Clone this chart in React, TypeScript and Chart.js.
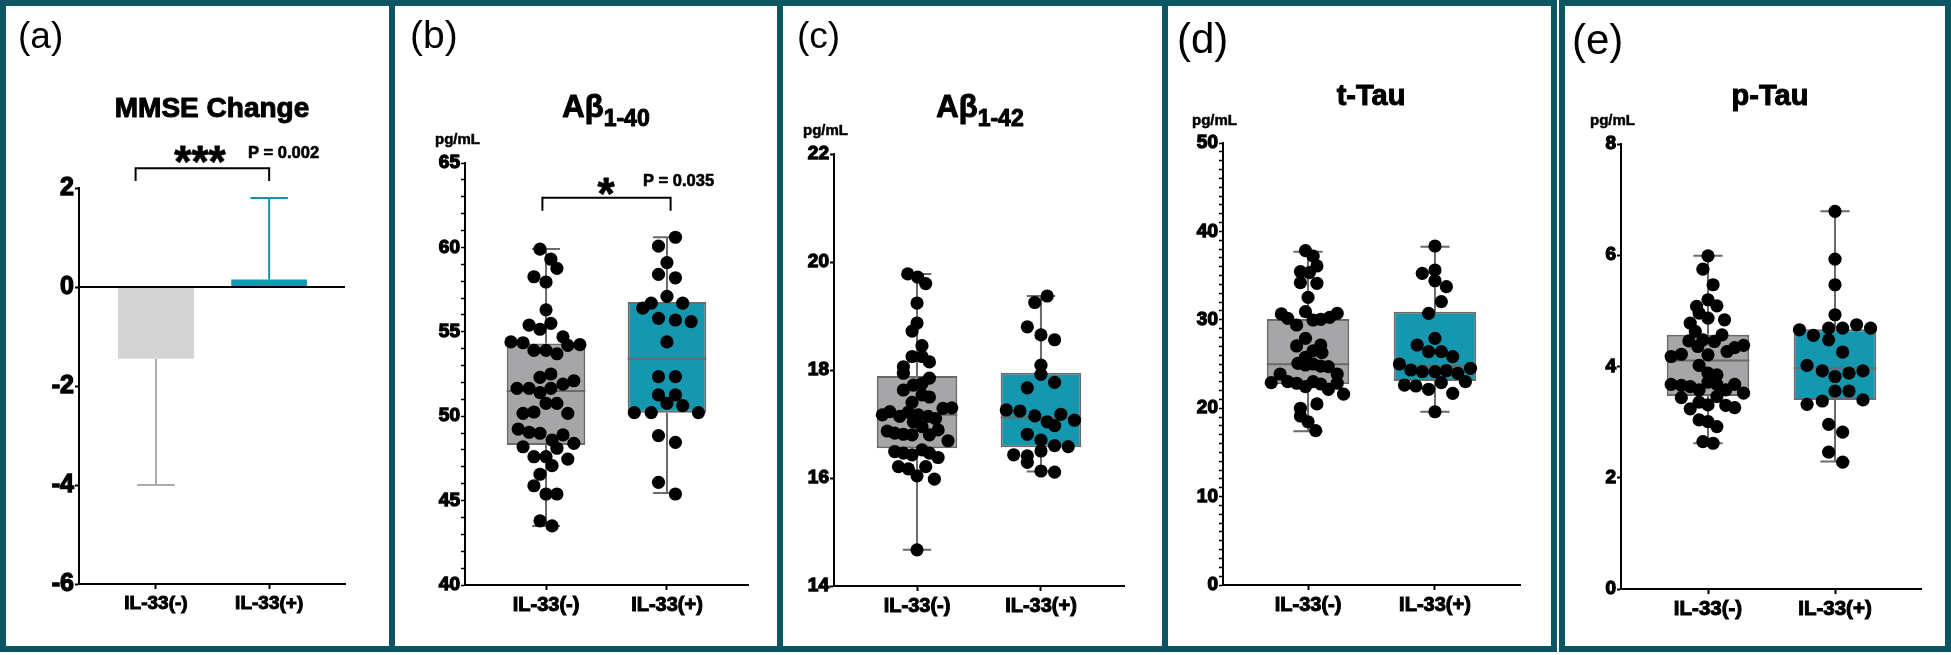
import React, { useEffect, useRef } from 'react';
import { Chart, registerables } from 'chart.js';

Chart.register(...registerables);

const FONT = "'Liberation Sans', Arial, sans-serif";
Chart.defaults.font.family = FONT;
Chart.defaults.font.weight = 'bold';
Chart.defaults.color = '#000';

const categories = ['IL-33(-)', 'IL-33(+)'];

// (a) MMSE change: bar means and error-bar ends
const mmseMean = [-1.45, 0.15];
const mmseErrorEnd = [-4.0, 1.8];
const mmseYTicks = [-6, -4, -2, 0, 2];

// (b) Aβ1-40 — box stats: min, q1, median, q3, max
const ab40YTicks = [40, 45, 50, 55, 60, 65];
const ab40NegBox = [43.5, 48.3, 51.5, 54.3, 59.9];
const ab40PosBox = [45.45, 50.2, 53.4, 56.77, 60.6];
const ab40NegValues = [59.9, 59.3, 58.76, 58.26, 57.95, 56.3, 55.4, 55.15, 55.5, 54.4, 54.35, 54.7, 54.2, 54.24, 53.9, 53.9, 53.7, 52.3, 52.5, 51.65, 51.65, 51.4, 51.65, 51.9, 52.1, 50.76, 50.76, 50.17, 50.25, 50.17, 49.24, 49.05, 48.99, 48.89, 48.19, 48.59, 48.1, 48.39, 47.6, 47.6, 47.46, 47.07, 46.56, 45.88, 45.39, 45.39, 43.8, 43.5];
const ab40NegJitter = [-0.05, 0.04, 0.09, -0.1, 0, 0, -0.14, -0.05, 0.04, -0.29, -0.19, 0.14, 0.18, 0.28, -0.1, 0, 0.09, -0.05, 0.04, -0.24, -0.14, -0.05, 0.04, 0.14, 0.23, 0, 0.09, -0.19, -0.1, 0.18, -0.23, -0.14, -0.05, 0.14, -0.19, 0.05, 0.09, 0.23, -0.1, 0, 0.18, 0.05, -0.05, -0.1, 0, 0.09, -0.05, 0.05];
const ab40PosValues = [60.6, 60.08, 59.1, 58.4, 58.2, 57.1, 56.4, 56.7, 56.7, 55.8, 55.7, 55.6, 54.4, 52.34, 52.34, 51.26, 51.26, 50.76, 50.63, 50.21, 50.21, 50.21, 48.85, 48.45, 46.08, 45.39];
const ab40PosJitter = [0.07, -0.07, 0, -0.07, 0.07, 0, -0.2, -0.13, 0.13, -0.07, 0.07, 0.2, 0, -0.07, 0.07, -0.07, 0.07, 0, 0.13, -0.27, -0.13, 0.26, -0.07, 0.07, -0.07, 0.07];

// (c) Aβ1-42
const ab42YTicks = [14, 16, 18, 20, 22];
const ab42NegBox = [14.67, 16.55, 17.17, 17.89, 19.78];
const ab42PosBox = [16.12, 16.57, 17.12, 17.95, 19.37];
const ab42NegValues = [19.78, 19.72, 19.6, 19.24, 18.87, 18.72, 18.45, 18.25, 18.25, 18.15, 18.06, 17.94, 17.85, 17.63, 17.72, 17.75, 17.54, 17.5, 17.4, 17.17, 17.23, 17.14, 17.22, 17.17, 17.14, 17.1, 17.29, 17.3, 17.04, 16.95, 16.87, 16.83, 16.81, 16.8, 16.8, 16.89, 16.69, 16.49, 16.46, 16.43, 16.52, 16.46, 16.38, 16.21, 16.17, 16.21, 16.04, 15.98, 14.67];
const ab42NegJitter = [-0.075, 0.005, 0.07, 0, 0, -0.04, 0.04, -0.04, 0.04, 0.1, -0.11, -0.11, 0.1, -0.11, -0.03, 0.04, 0.04, 0.1, -0.04, -0.28, -0.22, -0.14, -0.07, 0.01, 0.09, 0.15, 0.21, 0.28, -0.03, 0.04, -0.24, -0.18, -0.11, -0.04, 0.1, 0.17, 0.25, -0.18, -0.11, -0.04, 0.04, 0.1, 0.17, -0.15, -0.07, 0.07, 0, 0.14, 0];
const ab42PosValues = [19.37, 19.25, 18.8, 18.65, 18.56, 18.09, 17.92, 17.67, 17.77, 17.26, 17.24, 17.15, 17.04, 16.97, 17.18, 17.07, 16.81, 16.7, 16.6, 16.58, 16.43, 16.41, 16.5, 16.29, 16.13, 16.11];
const ab42PosJitter = [0.05, -0.05, -0.11, 0, 0.11, 0, 0, -0.11, 0.11, -0.28, -0.17, -0.05, 0.05, 0.11, 0.16, 0.27, -0.11, 0, 0.11, 0.22, -0.22, -0.11, 0, -0.11, 0, 0.11];

// (d) t-Tau
const tTauYTicks = [0, 10, 20, 30, 40, 50];
const tTauNegBox = [17.4, 22.7, 24.97, 30.09, 37.7];
const tTauPosBox = [19.6, 23.08, 24.8, 30.9, 38.27];
const tTauNegValues = [37.82, 37.2, 36.09, 35.45, 35.33, 34.2, 34.13, 32.54, 30.66, 30.17, 29.41, 30.92, 29.98, 30.05, 30.28, 30.73, 27.9, 27.04, 26.5, 27.15, 26.28, 25.76, 25.08, 24.89, 25.0, 24.77, 24.7, 23.87, 23.87, 22.89, 23.0, 22.82, 22.44, 23.0, 22.74, 22.14, 22.82, 21.6, 19.99, 20.48, 19.12, 18.47, 17.46];
const tTauNegJitter = [-0.02, 0.04, 0.07, -0.06, 0.01, -0.06, 0.07, 0, -0.21, -0.16, -0.09, -0.02, 0.04, 0.1, 0.17, 0.23, -0.02, -0.09, 0.04, 0.1, 0.11, -0.02, -0.08, -0.02, 0.04, 0.1, 0.16, 0.23, -0.22, -0.29, -0.16, -0.09, -0.02, 0.04, 0.1, 0.16, 0.23, 0.28, -0.06, 0.07, -0.06, 0, 0.06];
const tTauPosValues = [38.35, 35.26, 35.63, 34.42, 33.75, 32.05, 30.73, 27.9, 27.15, 26.4, 26.4, 25.83, 25.0, 24.32, 24.13, 24.13, 24.24, 23.95, 24.51, 23.0, 22.62, 22.51, 22.14, 22.89, 21.68, 19.6];
const tTauPosJitter = [0, -0.1, 0, 0, 0.09, 0.05, -0.05, 0, -0.14, -0.05, 0.05, 0.14, -0.28, -0.19, -0.1, 0, 0.09, 0.18, 0.28, 0.24, -0.24, -0.15, -0.05, 0.05, 0.14, 0];

// (e) p-Tau
const pTauYTicks = [0, 2, 4, 6, 8];
const pTauNegBox = [2.62, 3.47, 4.11, 4.57, 5.99];
const pTauPosBox = [2.29, 3.4, 3.97, 4.67, 6.79];
const pTauNegValues = [5.99, 5.75, 5.47, 5.2, 5.08, 5.09, 4.96, 4.87, 4.84, 4.78, 4.63, 4.46, 4.36, 4.48, 4.45, 4.57, 4.27, 4.34, 4.38, 4.18, 4.22, 4.21, 4.02, 3.88, 3.85, 3.68, 3.66, 3.64, 3.58, 3.72, 3.68, 3.58, 3.68, 3.52, 3.44, 3.36, 3.31, 3.46, 3.24, 3.3, 3.26, 3.04, 3.01, 2.92, 2.65, 2.62];
const pTauNegJitter = [0, -0.04, 0.04, 0, -0.09, 0.07, -0.07, 0, 0.13, -0.14, -0.1, -0.15, -0.08, -0.04, 0.05, 0.11, 0.15, 0.21, 0.28, -0.29, -0.21, 0, -0.07, 0, 0.07, -0.29, -0.21, -0.14, -0.07, 0, 0.07, 0.14, 0.21, 0.28, -0.21, -0.07, 0, 0.07, -0.14, 0.14, 0.21, -0.07, 0, 0.07, -0.04, 0.04];
const pTauPosValues = [6.79, 5.93, 5.47, 4.93, 4.66, 4.69, 4.69, 4.75, 4.69, 4.56, 4.48, 4.26, 4.02, 3.92, 3.82, 3.88, 3.92, 3.56, 3.56, 3.32, 3.38, 3.4, 2.96, 2.82, 2.46, 2.28];
const pTauPosJitter = [0, 0, 0, 0, -0.28, -0.05, 0.06, 0.17, 0.28, -0.17, -0.05, 0.06, -0.22, -0.1, 0, 0.11, 0.22, 0, 0.11, -0.22, -0.1, 0.22, -0.05, 0.06, -0.05, 0.06];

// ---- styles ----
const BORDER = '#0b5662';
const GRAY_FILL = '#a6a6a9';
const TEAL_FILL = '#1597b0';
const BOX_LINE = '#6a6a6a';
const BAR_GRAY = '#d4d4d4';
const ERR_GRAY = '#ababab';
const ERR_TEAL = '#1a90a8';
const PANEL_H = 652;
const INNER_H = 640;
const TICK_STROKE = 1.3;

type TextItem =
  | { kind: 'text'; text: string; x: number; y: number; font: string; align?: CanvasTextAlign; stroke?: number }
  | { kind: 'title'; main: string; sub: string; cx: number; y: number; size: number; subSize: number; subDy: number };

const textPlugin = {
  id: 'panelText',
  afterDraw(chart: any, _args: any, opts: any) {
    const ctx = chart.ctx as CanvasRenderingContext2D;
    const items: TextItem[] = opts.items || [];
    ctx.save();
    ctx.fillStyle = '#000';
    ctx.strokeStyle = '#000';
    ctx.lineJoin = 'round';
    ctx.textBaseline = 'alphabetic';
    for (const t of items) {
      if (t.kind === 'text') {
        ctx.font = t.font;
        ctx.textAlign = t.align || 'left';
        ctx.fillText(t.text, t.x, t.y);
        if (t.stroke) {
          ctx.lineWidth = t.stroke;
          ctx.strokeText(t.text, t.x, t.y);
        }
      } else {
        ctx.textAlign = 'left';
        ctx.font = `bold ${t.size}px ${FONT}`;
        const w1 = ctx.measureText(t.main).width;
        ctx.font = `bold ${t.subSize}px ${FONT}`;
        const w2 = t.sub ? ctx.measureText(t.sub).width : 0;
        const x0 = t.cx - (w1 + w2) / 2;
        ctx.lineWidth = 1;
        ctx.font = `bold ${t.size}px ${FONT}`;
        ctx.fillText(t.main, x0, t.y);
        ctx.strokeText(t.main, x0, t.y);
        if (t.sub) {
          ctx.font = `bold ${t.subSize}px ${FONT}`;
          ctx.fillText(t.sub, x0 + w1, t.y + t.subDy);
          ctx.strokeText(t.sub, x0 + w1, t.y + t.subDy);
        }
      }
    }
    ctx.restore();
  },
};

function yScale(opts: { min: number; max: number; majors: number[]; minorStep?: number; fontSize: number; width: number }) {
  const all: number[] = [];
  if (opts.minorStep) {
    for (let v = opts.min; v <= opts.max + 1e-9; v += opts.minorStep) all.push(Math.round(v * 1000) / 1000);
  } else {
    all.push(...opts.majors);
  }
  const majors = opts.majors;
  return {
    type: 'linear',
    min: opts.min,
    max: opts.max,
    afterBuildTicks: (s: any) => { s.ticks = all.map((v) => ({ value: v })); },
    afterFit: (s: any) => { s.width = opts.width; },
    ticks: {
      autoSkip: false,
      padding: 1,
      color: '#000',
      textStrokeColor: '#000',
      textStrokeWidth: TICK_STROKE,
      font: { family: FONT, size: opts.fontSize, weight: 'bold' },
      callback: (v: any) => (majors.indexOf(Number(v)) >= 0 ? String(v) : ''),
    },
    grid: {
      drawOnChartArea: false,
      tickLength: 4,
      tickColor: '#000',
      tickWidth: opts.minorStep ? 1.5 : 2,
      color: '#000',
    },
    border: { color: '#000', width: 2 },
  };
}

function xScale(min: number, max: number, fontSize: number) {
  return {
    type: 'linear',
    min,
    max,
    offset: false,
    afterBuildTicks: (s: any) => { s.ticks = [{ value: 1 }, { value: 2 }]; },
    afterFit: (s: any) => { s.height = 40; },
    ticks: {
      autoSkip: false,
      maxRotation: 0,
      padding: 3,
      color: '#000',
      textStrokeColor: '#000',
      textStrokeWidth: 1,
      font: { family: FONT, size: fontSize, weight: 'bold' },
      callback: (v: any) => categories[Number(v) - 1] ?? '',
    },
    grid: { drawOnChartArea: false, offset: false, tickLength: 5, tickColor: '#000', tickWidth: 2, color: '#000' },
    border: { color: '#000', width: 2 },
  };
}

function lineDs(data: any[], color: string, order: number, clip: any = undefined) {
  const ds: any = {
    type: 'line',
    data,
    borderColor: color,
    borderWidth: 2,
    pointRadius: 0,
    fill: false,
    spanGaps: false,
    tension: 0,
    order,
  };
  if (clip !== undefined) ds.clip = clip;
  return ds;
}

function baseOptions(padding: any, scales: any, items: TextItem[]) {
  return {
    responsive: false,
    maintainAspectRatio: false,
    animation: false,
    devicePixelRatio: 1,
    events: [],
    layout: { padding },
    scales,
    plugins: { legend: { display: false }, tooltip: { enabled: false }, title: { display: false }, panelText: { items } },
  };
}

// Panel (a)
function mmseConfig() {
  const cap = 0.165;
  const xMin = 0.32;
  const xMax = 2.67;
  const errGray = [
    { x: 1, y: mmseMean[0] }, { x: 1, y: mmseErrorEnd[0] }, { x: 1, y: null },
    { x: 1 - cap, y: mmseErrorEnd[0] }, { x: 1 + cap, y: mmseErrorEnd[0] },
  ];
  const errTeal = [
    { x: 2, y: mmseMean[1] }, { x: 2, y: mmseErrorEnd[1] }, { x: 2, y: null },
    { x: 2 - cap, y: mmseErrorEnd[1] }, { x: 2 + cap, y: mmseErrorEnd[1] },
  ];
  const zeroLine = [{ x: xMin, y: 0 }, { x: xMax, y: 0 }];
  const bracket = [{ x: 0.82, y: 2.14 }, { x: 0.82, y: 2.4 }, { x: 2, y: 2.4 }, { x: 2, y: 2.14 }];
  const items: TextItem[] = [
    { kind: 'text', text: '(a)', x: 12, y: 42, font: `37px ${FONT}` },
    { kind: 'text', text: 'MMSE Change', x: 206, y: 111, font: `bold 28px ${FONT}`, align: 'center', stroke: 1 },
    { kind: 'text', text: '***', x: 194, y: 170.5, font: `bold 44px ${FONT}`, align: 'center', stroke: 0.8 },
    { kind: 'text', text: 'P = 0.002', x: 242, y: 152, font: `bold 16.5px ${FONT}`, stroke: 0.6 },
  ];
  return {
    type: 'bar',
    data: {
      datasets: [
        {
          type: 'bar',
          data: [{ x: 1, y: mmseMean[0] }, { x: 2, y: mmseMean[1] }],
          backgroundColor: [BAR_GRAY, TEAL_FILL],
          borderWidth: 0,
          barPercentage: 0.67,
          categoryPercentage: 1,
          order: 3,
        },
        lineDs(zeroLine, '#000', 2),
        lineDs(errGray, ERR_GRAY, 1),
        lineDs(errTeal, ERR_TEAL, 1, false),
        lineDs(bracket, '#000', 0, false),
      ],
    },
    options: baseOptions(
      { left: 33, right: 44, top: 182, bottom: 22 },
      {
        x: xScale(xMin, xMax, 19),
        y: yScale({ min: -6, max: 2, majors: mmseYTicks, fontSize: 25, width: 40 }),
      },
      items
    ),
    plugins: [textPlugin],
  };
}

type BoxPanel = {
  negBox: number[]; posBox: number[];
  negValues: number[]; negJitter: number[]; posValues: number[]; posJitter: number[];
  yMin: number; yMax: number; yMajors: number[]; minorStep?: number; yFont: number; xFont: number;
  padding: any; xMin: number; xMax: number; items: TextItem[]; bracket?: any[];
};

function boxConfig(p: BoxPanel) {
  const hw = 0.325;
  const cw = 0.115;
  const lines: any[] = [];
  [p.negBox, p.posBox].forEach((b, i) => {
    const cx = i + 1;
    const mn = b[0], q1 = b[1], md = b[2], q3 = b[3], mx = b[4];
    lines.push(
      { x: cx, y: q3 }, { x: cx, y: mx }, { x: cx, y: null },
      { x: cx, y: q1 }, { x: cx, y: mn }, { x: cx, y: null },
      { x: cx - cw, y: mx }, { x: cx + cw, y: mx }, { x: cx, y: null },
      { x: cx - cw, y: mn }, { x: cx + cw, y: mn }, { x: cx, y: null },
      { x: cx - hw, y: md }, { x: cx + hw, y: md }, { x: cx, y: null }
    );
  });
  const pts = [
    ...p.negValues.map((v, i) => ({ x: 1 + p.negJitter[i], y: v })),
    ...p.posValues.map((v, i) => ({ x: 2 + p.posJitter[i], y: v })),
  ];
  const datasets: any[] = [
    {
      type: 'bar',
      data: [{ x: 1, y: [p.negBox[1], p.negBox[3]] }, { x: 2, y: [p.posBox[1], p.posBox[3]] }],
      backgroundColor: [GRAY_FILL, TEAL_FILL],
      borderColor: BOX_LINE,
      borderWidth: 2,
      borderSkipped: false,
      barPercentage: 0.65,
      categoryPercentage: 1,
      order: 3,
    },
    lineDs(lines, BOX_LINE, 2),
    {
      type: 'scatter',
      data: pts,
      backgroundColor: '#000',
      borderColor: '#000',
      borderWidth: 0,
      pointRadius: 6.6,
      order: 0,
    },
  ];
  if (p.bracket) datasets.push(lineDs(p.bracket, '#000', 1, false));
  return {
    type: 'bar',
    data: { datasets },
    options: baseOptions(
      p.padding,
      {
        x: xScale(p.xMin, p.xMax, p.xFont),
        y: yScale({ min: p.yMin, max: p.yMax, majors: p.yMajors, minorStep: p.minorStep, fontSize: p.yFont, width: 40 }),
      },
      p.items
    ),
    plugins: [textPlugin],
  };
}

const ab40Config = () =>
  boxConfig({
    negBox: ab40NegBox, posBox: ab40PosBox,
    negValues: ab40NegValues, negJitter: ab40NegJitter, posValues: ab40PosValues, posJitter: ab40PosJitter,
    yMin: 40, yMax: 65, yMajors: ab40YTicks, minorStep: 1, yFont: 19, xFont: 20,
    padding: { left: 30, right: 29, top: 157, bottom: 21 }, xMin: 0.33, xMax: 2.67,
    bracket: [{ x: 0.97, y: 62.17 }, { x: 0.97, y: 62.94 }, { x: 2.03, y: 62.94 }, { x: 2.03, y: 62.17 }],
    items: [
      { kind: 'text', text: '(b)', x: 15, y: 42, font: `39px ${FONT}` },
      { kind: 'title', main: 'Aβ', sub: '1-40', cx: 211, y: 111, size: 31, subSize: 23, subDy: 9 },
      { kind: 'text', text: 'pg/mL', x: 40, y: 138, font: `bold 15px ${FONT}`, stroke: 0.5 },
      { kind: 'text', text: '*', x: 211, y: 202.5, font: `bold 44px ${FONT}`, align: 'center', stroke: 0.8 },
      { kind: 'text', text: 'P = 0.035', x: 248, y: 180, font: `bold 16.5px ${FONT}`, stroke: 0.6 },
    ],
  });

const ab42Config = () =>
  boxConfig({
    negBox: ab42NegBox, posBox: ab42PosBox,
    negValues: ab42NegValues, negJitter: ab42NegJitter, posValues: ab42PosValues, posJitter: ab42PosJitter,
    yMin: 14, yMax: 22, yMajors: ab42YTicks, yFont: 19, xFont: 20,
    padding: { left: 11, right: 38, top: 148, bottom: 20 }, xMin: 0.33, xMax: 2.67,
    items: [
      { kind: 'text', text: '(c)', x: 14, y: 42, font: `37px ${FONT}` },
      { kind: 'title', main: 'Aβ', sub: '1-42', cx: 197, y: 111, size: 31, subSize: 23, subDy: 9 },
      { kind: 'text', text: 'pg/mL', x: 20, y: 129, font: `bold 15px ${FONT}`, stroke: 0.5 },
    ],
  });

const tTauConfig = () =>
  boxConfig({
    negBox: tTauNegBox, posBox: tTauPosBox,
    negValues: tTauNegValues, negJitter: tTauNegJitter, posValues: tTauPosValues, posJitter: tTauPosJitter,
    yMin: 0, yMax: 50, yMajors: tTauYTicks, minorStep: 1, yFont: 19, xFont: 20,
    padding: { left: 15, right: 31, top: 137, bottom: 21 }, xMin: 0.33, xMax: 2.67,
    items: [
      { kind: 'text', text: '(d)', x: 9, y: 47, font: `42px ${FONT}` },
      { kind: 'title', main: 't-Tau', sub: '', cx: 203, y: 99, size: 29, subSize: 20, subDy: 0 },
      { kind: 'text', text: 'pg/mL', x: 24, y: 119, font: `bold 15px ${FONT}`, stroke: 0.5 },
    ],
  });

const pTauConfig = () =>
  boxConfig({
    negBox: pTauNegBox, posBox: pTauPosBox,
    negValues: pTauNegValues, negJitter: pTauNegJitter, posValues: pTauPosValues, posJitter: pTauPosJitter,
    yMin: 0, yMax: 8, yMajors: pTauYTicks, yFont: 19, xFont: 20.5,
    padding: { left: 16, right: 24, top: 138, bottom: 17 }, xMin: 0.315, xMax: 2.677,
    items: [
      { kind: 'text', text: '(e)', x: 7, y: 48, font: `42px ${FONT}` },
      { kind: 'title', main: 'p-Tau', sub: '', cx: 205, y: 99, size: 29, subSize: 20, subDy: 0 },
      { kind: 'text', text: 'pg/mL', x: 25, y: 119, font: `bold 15px ${FONT}`, stroke: 0.5 },
    ],
  });

function Panel({ left, width, build }: { left: number; width: number; build: () => any }) {
  const ref = useRef<HTMLCanvasElement>(null);
  useEffect(() => {
    const chart = new Chart(ref.current as HTMLCanvasElement, build());
    return () => chart.destroy();
  }, []);
  return (
    <div
      style={{
        position: 'absolute',
        left,
        top: 0,
        width,
        height: PANEL_H,
        boxSizing: 'border-box',
        border: `6px solid ${BORDER}`,
        background: '#fff',
      }}
    >
      <canvas ref={ref} width={width - 12} height={INNER_H} style={{ display: 'block' }} />
    </div>
  );
}

export default function App() {
  return (
    <div style={{ position: 'absolute', left: 0, top: 0, width: 1951, height: 655, background: '#fff', overflow: 'hidden' }}>
      <Panel left={0} width={395} build={mmseConfig} />
      <Panel left={389} width={394} build={ab40Config} />
      <Panel left={777} width={391} build={ab42Config} />
      <Panel left={1162} width={395} build={tTauConfig} />
      <Panel left={1559} width={392} build={pTauConfig} />
    </div>
  );
}
